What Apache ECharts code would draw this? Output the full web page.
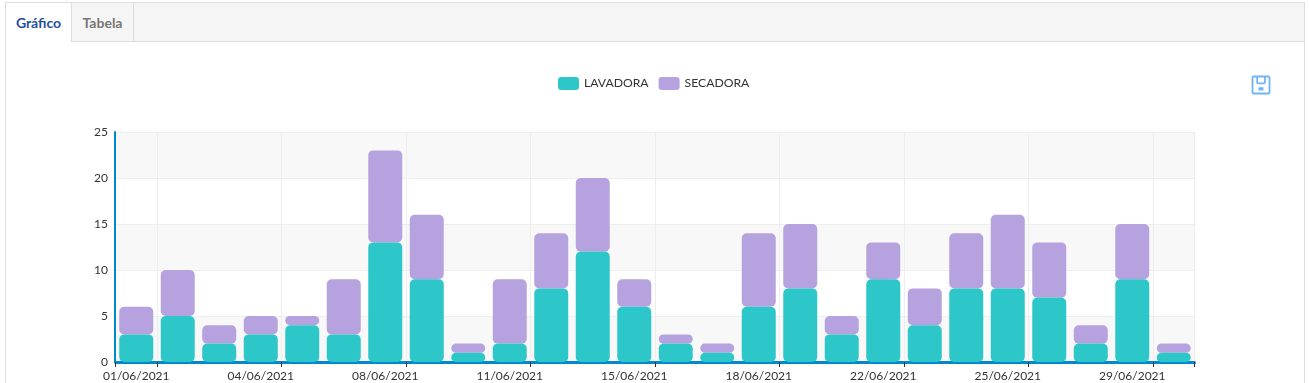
<!DOCTYPE html>
<html>
<head>
<meta charset="utf-8">
<script src="https://cdn.jsdelivr.net/npm/echarts@6/dist/echarts.min.js"></script>
<style>
  html, body { margin: 0; padding: 0; background: #fff; width: 1309px; height: 383px; overflow: hidden; }
  #panel { position: absolute; left: 5px; top: 2px; width: 1298px; height: 381px; border: 1px solid #ddd; border-bottom: 0; border-top: 1px solid #ddd; }
  #tabs { position: absolute; left: 0; top: 0; right: 0; height: 38px; background: #f5f5f5; border-bottom: 1px solid #ddd; }
  .tab { position: absolute; top: 0; height: 38px; text-align: center; font: bold 14px/39px Lato, sans-serif; border-right: 1px solid #ddd; box-sizing: content-box; }
  #tab1 { left: 0; width: 65px; color: #1f4f9c; background: #fff; height: 39px; }
  #tab2 { left: 66px; width: 61px; color: #777; }
  #main { position: absolute; left: 0; top: 0; width: 1309px; height: 383px; }
</style>
</head>
<body>
<div id="panel">
  <div id="tabs">
    <div class="tab" id="tab1">Gráfico</div>
    <div class="tab" id="tab2">Tabela</div>
  </div>
</div>
<div id="main"></div>
<script>
const categories = ['01/06/2021', '02/06/2021', '03/06/2021', '04/06/2021', '05/06/2021', '07/06/2021', '08/06/2021', '09/06/2021', '10/06/2021', '11/06/2021', '12/06/2021', '14/06/2021', '15/06/2021', '16/06/2021', '17/06/2021', '18/06/2021', '19/06/2021', '21/06/2021', '22/06/2021', '23/06/2021', '24/06/2021', '25/06/2021', '26/06/2021', '28/06/2021', '29/06/2021', '30/06/2021']
const lavadora = [3, 5, 2, 3, 4, 3, 13, 9, 1, 2, 8, 12, 6, 2, 1, 6, 8, 3, 9, 4, 8, 8, 7, 2, 9, 1]
const secadora = [3, 5, 2, 2, 1, 6, 10, 7, 1, 7, 6, 8, 3, 1, 1, 8, 7, 2, 4, 4, 6, 8, 6, 2, 6, 1]

const floppyIcon = 'path://M2,1 L22,1 L23,2 L23,22 L22,23 L2,23 L1,22 L1,2 Z M7,1 L7,9 L8,10 L16,10 L17,9 L17,1 M10,16 L14,16 L14,18 L10,18 Z'

const chart = echarts.init(document.getElementById('main'))
const options = {
  color: ['#2ec7c9', '#b6a2de'],
  textStyle: { fontFamily: 'Lato' },
  legend: {
    top: 72,
    left: 553,
    itemWidth: 21,
    itemHeight: 13,
    itemGap: 10,
    data: ['LAVADORA', 'SECADORA'],
    textStyle: { color: '#333', fontSize: 12.2, fontFamily: 'Lato' },
  },
  toolbox: {
    show: true,
    right: 22,
    top: 59,
    itemSize: 17,
    feature: {
      saveAsImage: { show: true, icon: floppyIcon, title: '' },
    },
    iconStyle: { borderColor: '#6db5f7', borderWidth: 1.8, color: 'none' },
  },
  grid: { left: 115.5, right: 114.5, top: 132, bottom: 21 },
  xAxis: {
    type: 'category',
    data: categories,
    offset: 2,
    axisLine: { lineStyle: { color: '#008acd', width: 3 } },
    axisTick: {
      show: true,
      interval: (idx) => idx === 0 || idx % 3 === 1,
      lineStyle: { color: '#333' },
    },
    axisLabel: { interval: 2, color: '#333', fontSize: 12, margin: 6, fontFamily: 'Lato' },
    splitLine: {
      show: true,
      interval: (idx) => idx % 3 === 1,
      lineStyle: { color: '#eee' },
    },
  },
  yAxis: {
    type: 'value',
    min: 0,
    max: 25,
    interval: 5,
    offset: 0.5,
    axisLine: { show: true, lineStyle: { color: '#008acd', width: 2 } },
    axisTick: { show: false },
    axisLabel: { color: '#333', fontSize: 12, margin: 7, fontFamily: 'Lato' },
    splitLine: { show: true, lineStyle: { color: '#eee' } },
    splitArea: { show: true, areaStyle: { color: ['rgba(200,200,200,0.13)', 'rgba(255,255,255,0)'] } },
  },
  series: [
    {
      name: 'LAVADORA',
      type: 'bar',
      stack: 'total',
      barWidth: 34,
      data: lavadora,
      itemStyle: { borderRadius: 5 },
      z: 3,
    },
    {
      name: 'SECADORA',
      type: 'bar',
      stack: 'total',
      barWidth: 34,
      data: secadora,
      itemStyle: { borderRadius: 5 },
      z: 2,
    },
  ],
}
chart.setOption(options)
</script>
</body>
</html>
